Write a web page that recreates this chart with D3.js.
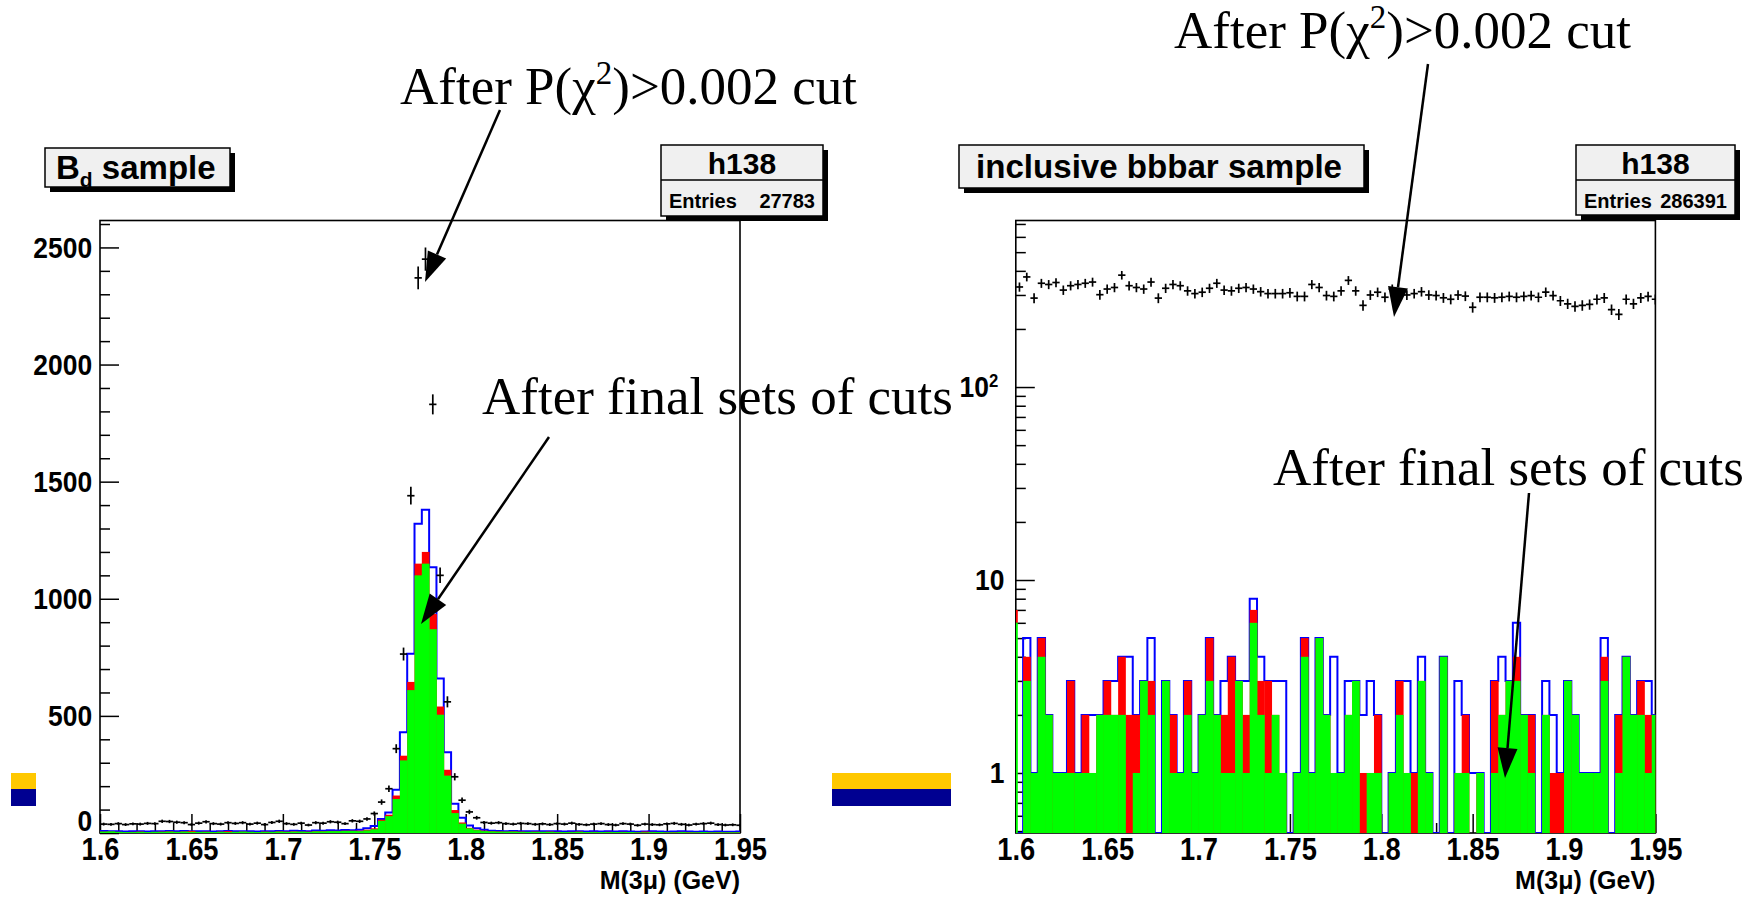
<!DOCTYPE html>
<html><head><meta charset="utf-8">
<script src="https://cdn.jsdelivr.net/npm/d3@7"></script>
<style>body{margin:0;background:#fff}</style>
</head><body>
<svg id="c" width="1756" height="897" xmlns="http://www.w3.org/2000/svg"></svg>
<script>
// ---------------- DATA ----------------
const binCount = 88;          // visible bins of h138 (0.004 GeV each)
const binStart = 1.6;
const binWidth = 0.004;
const binLowEdges = d3.range(binCount).map(i => +(binStart + binWidth * i).toFixed(4));

const xTickValues = [1.6, 1.65, 1.7, 1.75, 1.8, 1.85, 1.9, 1.95];
const xTickLabels = ["1.6", "1.65", "1.7", "1.75", "1.8", "1.85", "1.9", "1.95"];
const xMinorTicks = [1.61,1.62,1.63,1.64,1.66,1.67,1.68,1.69,1.71,1.72,1.73,1.74,1.76,1.77,1.78,1.79,1.81,1.82,1.83,1.84,1.86,1.87,1.88,1.89,1.91,1.92,1.93,1.94];
const leftYTickValues = [0, 500, 1000, 1500, 2000, 2500];
const leftYTickLabels = ["0", "500", "1000", "1500", "2000", "2500"];
const leftYMinorTicks = [100,200,300,400,600,700,800,900,1100,1200,1300,1400,1600,1700,1800,1900,2100,2200,2300,2400,2600];
const rightYTickValues = [1, 10, 100];
const rightYTickLabels = ["1", "10", "10"];
const rightYMinorTicks = [0.5,0.6,0.7,0.8,0.9,2,3,4,5,6,7,8,9,20,30,40,50,60,70,80,90,200,300,400,500,600,700];

// Left panel: B_d sample
const leftCross = [38,37,40,36,39,38,41,40,50,49, 46,44,36,42,48,40,38,44,41,44,
  38,42,36,45,50,40,37,42,34,44, 42,48,46,40,52,50,60,83,132,189,
  360,764,1440,2370,2450,1830,1100,560,240,140, 90,65,45,42,44,40,38,41,40,37,
  39,36,40,38,42,37,35,38,40,36, 34,40,38,33,38,36,35,39,41,37, 34,38,40,42,36,34,35,33];
const leftBlue = [9,8,7,6,7,8,6,7,8,9, 7,9,8,7,8,6,8,9,7,8, 7,6,8,7,9,8,10,9,8,11,
  10,12,11,13,12,14,20,30,60,88, 185,430,765,1320,1380,1135,660,345,125,65,
  32,20,14,10,9,8,9,8,7,8, 7,8,7,6,7,8,6,7,6,7, 6,7,6,5,6,7,6,5,6,7, 6,5,6,5,6,5,5,6];
const leftRed = [6,6,5,4,5,6,4,5,6,7, 5,7,9,5,6,4,6,8,5,6, 5,4,6,5,7,6,7,6,6,8,
  8,9,9,10,10,10,14,20,57,78, 160,330,645,1150,1200,935,540,270,98,45,
  22,14,10,8,7,6,7,6,5,6, 5,6,5,4,5,6,4,5,4,5, 4,5,4,3,6,5,4,3,4,5, 4,3,4,3,4,3,3,4];
const leftGreen = [6,7,5,4,4,5,4,5,5,6, 5,6,5,5,5,4,5,4,5,6, 5,4,5,5,6,5,6,6,5,7,
  7,8,8,9,9,8,11,16,52,72, 145,310,610,1100,1150,870,505,245,85,40,
  20,12,8,7,6,6,6,5,5,5, 5,5,4,4,4,5,4,4,4,4, 4,4,4,3,3,4,4,3,3,4, 3,3,4,3,3,3,3,3];

// Right panel: inclusive bbbar sample
const rightCross = [330,372,289,345,340,348,318,335,340,345, 350,301,322,328,380,335,328,322,350,289,
  325,340,335,315,305,310,325,345,318,315, 325,328,322,312,305,305,305,308,295,295,
  340,328,298,295,315,357,315,265,300,310, 292,322,305,300,305,312,300,298,290,285,
  300,296,259,292,292,290,292,295,292,295, 298,292,310,298,280,270,262,265,268,285,
  290,252,238,285,270,290,295,285];
const rightBlue = [0,5,1,5,2,1,1,3,1,2, 2,2,3,3,4,4,2,3,5,0, 3,2,1,3,1,2,5,2,3,4,
  3,3,8,4,3,3,3,0,1,5, 1,5,2,4,1,3,3,2,3,2, 0,1,3,3,1,4,1,0,4,0,
  3,2,1,1,0,3,4,3,6,2, 2,0,3,2,1,3,2,1,1,1, 5,0,2,4,2,3,3,2];
const rightRed = [0,4,1,5,2,1,1,3,1,2, 1,2,3,2,4,2,2,3,3,0, 3,2,1,3,1,2,5,2,2,4,
  3,2,7,3,3,2,1,0,1,5, 1,5,2,1,1,2,3,1,1,2, 0,1,3,1,1,3,1,0,4,0,
  1,2,0,1,0,3,2,3,4,2, 2,0,2,1,1,3,2,1,1,1, 4,0,2,4,2,3,2,2];
const rightGreen = [0,3,1,4,2,1,1,1,1,1, 1,2,2,2,2,0,1,3,2,0, 3,1,1,2,1,2,3,2,1,1,
  3,1,6,2,1,2,1,0,1,4, 1,5,2,1,1,2,3,0,1,1, 0,1,2,1,0,3,1,0,4,0,
  1,1,0,1,0,1,2,3,3,2, 1,0,2,0,0,3,2,1,1,1, 3,0,1,4,2,2,1,2];
const rightEdgeLine = {green: 6, red: 7};

const titleLeft = "sample", titleRight = "inclusive bbbar sample";
const statName = "h138";
const entriesLeft = "27783", entriesRight = "286391";
const axisTitle = "M(3\u03bc) (GeV)";

// ---------------- DRAWING ----------------
const svg = d3.select("#c");
const SANS = "'Liberation Sans', Arial, Helvetica, sans-serif";
const SERIF = "'Liberation Serif', 'Times New Roman', serif";
const defs = svg.append("defs");

// slide decoration bars
[[11, 36], [832, 951]].forEach(([a, b]) => {
  svg.append("rect").attr("x", a).attr("y", 773).attr("width", b - a).attr("height", 16).attr("fill", "#ffc800");
  svg.append("rect").attr("x", a).attr("y", 789).attr("width", b - a).attr("height", 17).attr("fill", "#000091");
});

const xL = d3.scaleLinear().domain([1.6, 1.95]).range([100, 740]);
const yL = d3.scaleLinear().domain([0, 2615]).range([833, 220.5]);
const xR = d3.scaleLinear().domain([1.6, 1.95]).range([1015.8, 1655.4]);
const yR = d3.scaleLog().domain([Math.pow(10, -0.311), Math.pow(10, 2.863)]).range([833, 220.5]);

function styleAxis(g, size, sx) {
  g.attr("font-family", SANS).attr("font-size", size).attr("font-weight", "bold");
  g.selectAll("line").attr("stroke", "#000").attr("stroke-width", 1.5);
  g.selectAll("text").attr("fill", "#000");
  if (sx) g.selectAll("text").attr("transform", `scale(${sx},1)`);
  g.select(".domain").remove();
}

function drawPanel(o) {
  const {x, y, id, cross, blue, red, green, yTicks, yLabels, yMinor, log} = o;
  const [x0, x1] = x.range();
  const [yb, yt] = y.range();
  const g = svg.append("g");

  // frame
  g.append("rect").attr("x", x0).attr("y", yt).attr("width", x1 - x0).attr("height", yb - yt)
    .attr("fill", "none").attr("stroke", "#000").attr("stroke-width", 1.6);

  // x axis
  const gx = g.append("g").attr("transform", `translate(0,${yb})`)
    .call(d3.axisBottom(x).tickValues(xTickValues).tickFormat((d, i) => xTickLabels[i])
      .tickSize(-19).tickSizeOuter(0).tickPadding(5));
  styleAxis(gx, 31, 0.88);
  const gxm = g.append("g").attr("transform", `translate(0,${yb})`)
    .call(d3.axisBottom(x).tickValues(xMinorTicks).tickFormat("").tickSize(-10).tickSizeOuter(0));
  styleAxis(gxm, 10);

  // y axis
  const gy = g.append("g").attr("transform", `translate(${x0},0)`)
    .call(d3.axisLeft(y).tickValues(yTicks).tickFormat((d, i) => yLabels[i])
      .tickSize(-19).tickSizeOuter(0).tickPadding(log ? 13 : 9));
  styleAxis(gy, 30, 0.88);
  const gym = g.append("g").attr("transform", `translate(${x0},0)`)
    .call(d3.axisLeft(y).tickValues(yMinor).tickFormat("").tickSize(-10).tickSizeOuter(0));
  styleAxis(gym, 10);
  if (log) {
    gy.selectAll(".tick").filter(d => d === 100).select("text")
      .attr("x", -20)
      .append("tspan").attr("dy", "-0.55em").attr("font-size", 19).text("2");
  } else {
    gy.selectAll(".tick").filter(d => d === 0).select("text").attr("dy", "-0.1em");
  }

  // histograms
  defs.append("clipPath").attr("id", id).append("rect")
    .attr("x", x0).attr("y", yt).attr("width", x1 - x0).attr("height", yb - yt);
  const hg = g.append("g").attr("clip-path", `url(#${id})`);
  const yv = v => (v > 0 ? y(v) : yb);
  const xEnd = x(binLowEdges[binCount - 1] + binWidth);

  const pts = [[x(binLowEdges[0]), yb]];
  binLowEdges.forEach((e, i) => {
    pts.push([x(e), yv(blue[i])]);
    pts.push([x(e + binWidth), yv(blue[i])]);
  });
  pts.push([xEnd, yb]);
  hg.append("path").attr("d", d3.line()(pts)).attr("fill", "none")
    .attr("stroke", "#0000ff").attr("stroke-width", 2);

  function bars(vals, color) {
    hg.append("g").selectAll("rect")
      .data(binLowEdges.map((e, i) => ({e, v: vals[i]})).filter(d => d.v > 0))
      .join("rect")
      .attr("x", d => x(d.e))
      .attr("width", d => x(d.e + binWidth) - x(d.e) + 0.4)
      .attr("y", d => y(d.v))
      .attr("height", d => yb - y(d.v))
      .attr("fill", color);
  }
  bars(red, "#ff0000");
  bars(green, "#00ff00");

  if (o.edge) {
    hg.append("line").attr("x1", x0 + 1).attr("x2", x0 + 1).attr("y1", y(o.edge.red)).attr("y2", y(o.edge.green))
      .attr("stroke", "#ff0000").attr("stroke-width", 2);
    hg.append("line").attr("x1", x0 + 1).attr("x2", x0 + 1).attr("y1", y(o.edge.green)).attr("y2", yb)
      .attr("stroke", "#00ff00").attr("stroke-width", 2);
  }

  // data points with error bars
  const cg = hg.append("g").attr("stroke", "#000").attr("stroke-width", 1.7);
  binLowEdges.forEach((e, i) => {
    const v = cross[i];
    if (!(v > 0)) return;
    const xc = x(e + binWidth / 2);
    const err = Math.sqrt(v);
    cg.append("line").attr("x1", x(e)).attr("x2", x(e + binWidth)).attr("y1", y(v)).attr("y2", y(v));
    cg.append("line").attr("x1", xc).attr("x2", xc).attr("y1", y(v + err)).attr("y2", y(Math.max(v - err, 1e-3)));
  });

  // axis title
  g.append("text").attr("x", x1).attr("y", 889).attr("text-anchor", "end")
    .attr("font-family", SANS).attr("font-size", 25).attr("font-weight", "bold").text(axisTitle);
}

drawPanel({x: xL, y: yL, id: "clipL", cross: leftCross, blue: leftBlue, red: leftRed, green: leftGreen,
  yTicks: leftYTickValues, yLabels: leftYTickLabels, yMinor: leftYMinorTicks, log: false});
drawPanel({x: xR, y: yR, id: "clipR", cross: rightCross, blue: rightBlue, red: rightRed, green: rightGreen,
  yTicks: rightYTickValues, yLabels: rightYTickLabels, yMinor: rightYMinorTicks, log: true, edge: rightEdgeLine});

// boxes
function box(x, y, w, h) {
  svg.append("rect").attr("x", x + 5).attr("y", y + 5).attr("width", w).attr("height", h).attr("fill", "#000");
  svg.append("rect").attr("x", x).attr("y", y).attr("width", w).attr("height", h)
    .attr("fill", "#f0f0f0").attr("stroke", "#000").attr("stroke-width", 1.5);
}
// title boxes
box(45, 148, 185, 39);
const tl = svg.append("text").attr("x", 56).attr("y", 179).attr("font-family", SANS).attr("font-weight", "bold").attr("font-size", 33);
tl.append("tspan").text("B");
tl.append("tspan").attr("font-size", 21).attr("dy", 8).text("d");
tl.append("tspan").attr("dy", -8).text(" " + titleLeft);

box(959, 145, 405, 43);
svg.append("text").attr("x", 976).attr("y", 178).attr("font-family", SANS).attr("font-weight", "bold")
  .attr("font-size", 34).attr("textLength", 366).attr("lengthAdjust", "spacingAndGlyphs").text(titleRight);

// stat boxes
function statBox(x, y, w, h, entries) {
  box(x, y, w, h);
  svg.append("line").attr("x1", x).attr("x2", x + w).attr("y1", y + 35).attr("y2", y + 35)
    .attr("stroke", "#000").attr("stroke-width", 1.5);
  svg.append("text").attr("x", x + w / 2).attr("y", y + 29).attr("text-anchor", "middle")
    .attr("font-family", SANS).attr("font-weight", "bold").attr("font-size", 30).text(statName);
  svg.append("text").attr("x", x + 8).attr("y", y + 63)
    .attr("font-family", SANS).attr("font-weight", "bold").attr("font-size", 20).text("Entries");
  svg.append("text").attr("x", x + w - 8).attr("y", y + 63).attr("text-anchor", "end")
    .attr("font-family", SANS).attr("font-weight", "bold").attr("font-size", 20).text(entries);
}
statBox(661, 145, 162, 71, entriesLeft);
statBox(1576, 145, 159, 70, entriesRight);

// annotations
function chiText(x, y) {
  const t = svg.append("text").attr("x", x).attr("y", y).attr("font-family", SERIF).attr("font-size", 53);
  t.append("tspan").text("After P(\u03c7");
  t.append("tspan").attr("font-size", 33).attr("dy", -20).text("2");
  t.append("tspan").attr("dy", 20).text(")>0.002 cut");
}
function finalText(x, y) {
  svg.append("text").attr("x", x).attr("y", y).attr("font-family", SERIF).attr("font-size", 53)
    .text("After final sets of cuts");
}
function arrow(x1, y1, x2, y2) {
  const a = Math.atan2(y2 - y1, x2 - x1), L = 30, W = 10;
  const bx = x2 - L * Math.cos(a), by = y2 - L * Math.sin(a);
  svg.append("line").attr("x1", x1).attr("y1", y1).attr("x2", bx).attr("y2", by)
    .attr("stroke", "#000").attr("stroke-width", 2.5);
  svg.append("polygon").attr("points",
    [[x2, y2], [bx + W * Math.sin(a), by - W * Math.cos(a)], [bx - W * Math.sin(a), by + W * Math.cos(a)]]
      .map(p => p.join(",")).join(" ")).attr("fill", "#000");
}
chiText(400, 104);
chiText(1174, 48);
finalText(482, 414);
finalText(1273, 485);
arrow(500, 110, 425, 282);
arrow(549, 437, 421, 624);
arrow(1428, 64, 1394, 317);
arrow(1529, 493, 1505, 778);
</script>
</body></html>
